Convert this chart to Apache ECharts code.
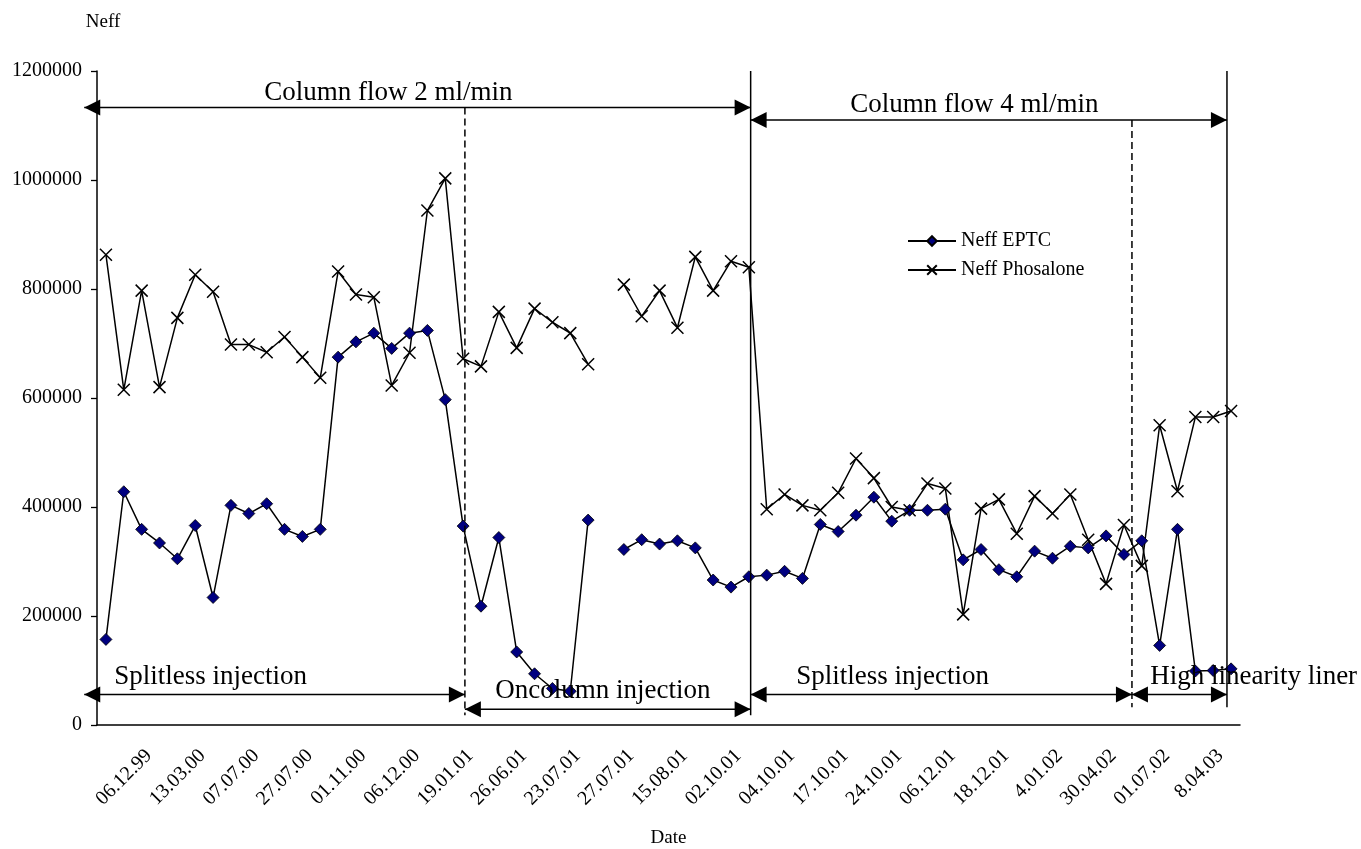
<!DOCTYPE html>
<html>
<head>
<meta charset="utf-8">
<title>Neff EPTC / Phosalone</title>
<script src="https://cdn.jsdelivr.net/npm/echarts@6/dist/echarts.min.js"></script>
<style>
  html, body { margin: 0; padding: 0; background: #fff; }
  #chart { width: 1361px; height: 849px; }
</style>
</head>
<body>
<div id="chart"></div>
<script>
// Plate number (Neff) per injection, in measurement order; null = no injection that day
const eptc = [
  157000, 428000, 359000, 334000, 305000, 366000, 234000, 403000, 388000, 406000,
  359000, 346000, 359000, 675000, 703000, 719000, 691000, 719000, 724000, 597000,
  365000, 218000, 344000, 134000, 94000, 67000, 62000, 376000, null, 322000,
  340000, 332000, 338000, 325000, 266000, 253000, 272000, 275000, 282000, 269000,
  368000, 355000, 385000, 418000, 374000, 394000, 394000, 396000, 303000, 322000,
  285000, 272000, 319000, 306000, 328000, 325000, 347000, 313000, 338000, 146000,
  359000, 99000, 100000, 103000
];
const phosalone = [
  863000, 615000, 797000, 620000, 747000, 826000, 795000, 698000, 698000, 684000,
  712000, 675000, 637000, 832000, 790000, 785000, 623000, 683000, 944000, 1003000,
  672000, 658000, 758000, 692000, 764000, 739000, 719000, 662000, null, 808000,
  750000, 797000, 729000, 859000, 797000, 851000, 840000, 396000, 423000, 403000,
  394000, 426000, 489000, 453000, 400000, 394000, 443000, 434000, 203000, 397000,
  414000, 351000, 420000, 388000, 423000, 340000, 259000, 367000, 292000, 550000,
  429000, 565000, 565000, 576000
];
// Date printed under every third measurement
const dateTicks = [
  '06.12.99', '13.03.00', '07.07.00', '27.07.00', '01.11.00', '06.12.00', '19.01.01',
  '26.06.01', '23.07.01', '27.07.01', '15.08.01', '02.10.01', '04.10.01', '17.10.01',
  '24.10.01', '06.12.01', '18.12.01', '4.01.02', '30.04.02', '01.07.02', '8.04.03'
];
const tickEvery = 3;
const yMin = 0, yMax = 1200000, yStep = 200000;

const sampleNo = eptc.map((_, i) => String(i + 1));
const serif = '"Liberation Serif", "Times New Roman", serif';

const chart = echarts.init(document.getElementById('chart'), null, { renderer: 'canvas' });

chart.setOption({
  animation: false,
  backgroundColor: '#fff',
  textStyle: { fontFamily: serif, color: '#000' },
  grid: { left: 97, right: 121, top: 71, bottom: 124, containLabel: false, outerBoundsMode: 'none' },
  legend: {
    orient: 'vertical',
    left: 902,
    top: 226,
    itemWidth: 48,
    itemHeight: 12,
    itemGap: 9,
    selectedMode: false,
    textStyle: { fontFamily: serif, fontSize: 20, color: '#000' },
    data: ['Neff EPTC', 'Neff Phosalone']
  },
  xAxis: {
    type: 'category',
    data: sampleNo,
    boundaryGap: true,
    name: 'Date',
    nameLocation: 'middle',
    nameGap: 104,
    nameTextStyle: { fontFamily: serif, fontSize: 19, color: '#000' },
    axisLine: { lineStyle: { color: '#000', width: 1.5 } },
    axisTick: { interval: 0, length: 7, lineStyle: { color: '#000', width: 1.3 } },
    axisLabel: {
      interval: (i) => i > 0 && i % tickEvery === 0,
      rotate: 45,
      margin: 17,
      padding: [0, 15, 0, 0],
      fontFamily: serif,
      fontSize: 20,
      color: '#000',
      formatter: (v, i) => dateTicks[i / tickEvery - 1] || ''
    },
    splitLine: { show: false }
  },
  yAxis: {
    type: 'value',
    min: yMin,
    max: yMax,
    interval: yStep,
    name: 'Neff',
    nameLocation: 'end',
    nameGap: 39,
    nameTextStyle: { fontFamily: serif, fontSize: 19, color: '#000', align: 'center', padding: [0, 0, 0, 12] },
    axisLine: { show: true, lineStyle: { color: '#000', width: 1.5 } },
    axisTick: { show: true, length: 6, lineStyle: { color: '#000', width: 1.3 } },
    axisLabel: { margin: 15, fontFamily: serif, fontSize: 20, color: '#000', formatter: (v) => String(v) },
    splitLine: { show: false }
  },
  series: [
    {
      name: 'Neff EPTC',
      type: 'line',
      data: eptc,
      connectNulls: false,
      symbol: 'diamond',
      symbolSize: 12,
      showSymbol: true,
      showAllSymbol: true,
      lineStyle: { color: '#000', width: 1.5 },
      itemStyle: { color: '#000080', borderColor: '#000', borderWidth: 0.8 },
      emphasis: { disabled: true }
    },
    {
      name: 'Neff Phosalone',
      type: 'line',
      data: phosalone,
      connectNulls: false,
      symbol: 'path://M0,0L10,10M10,0L0,10',
      symbolSize: 12,
      showSymbol: true,
      showAllSymbol: true,
      lineStyle: { color: '#000', width: 1.5 },
      itemStyle: { color: '#000', borderColor: '#000', borderWidth: 1.5 },
      emphasis: { disabled: true }
    }
  ]
});

// ---- Period annotations: separators, double arrows and captions ----
const x0 = chart.convertToPixel({ xAxisIndex: 0 }, 0);
const band = chart.convertToPixel({ xAxisIndex: 0 }, 1) - x0;
const xAt = (p) => x0 + p * band;            // fractional measurement position -> px
const yAt = (v) => chart.convertToPixel({ yAxisIndex: 0 }, v);

// period limits, in measurement units
const leftEdge = -1.215, onColumnStart = 20.1, flow4Start = 36.1, linerStart = 57.45, lastRun = 62.77;

const black = '#000';
function vline(p, vTop, vBottom, dashed) {
  return {
    type: 'line', silent: true, z: 50,
    shape: { x1: xAt(p), y1: yAt(vTop), x2: xAt(p), y2: yAt(vBottom) },
    style: { stroke: black, lineWidth: 1.5, lineDash: dashed ? [7, 4] : null }
  };
}
function head(x, y, dir) {
  const L = 16, H = 8;
  return {
    type: 'polygon', silent: true, z: 51,
    shape: { points: [[x, y], [x - dir * L, y - H], [x - dir * L, y + H]] },
    style: { fill: black }
  };
}
function arrow(pA, pB, v) {
  const xa = xAt(pA), xb = xAt(pB), y = yAt(v);
  return [
    { type: 'line', silent: true, z: 50, shape: { x1: xa, y1: y, x2: xb, y2: y }, style: { stroke: black, lineWidth: 1.5 } },
    head(xa, y, -1),
    head(xb, y, 1)
  ];
}
function caption(text, p, v, dy) {
  return {
    type: 'text', silent: true, z: 52,
    x: xAt(p), y: yAt(v) + dy,
    style: { text, fill: black, font: '27px ' + serif, align: 'left', verticalAlign: 'middle' }
  };
}

const topA = 1133000, topB = 1110000, lowA = 56000, lowB = 29000;
const graphics = [
  vline(onColumnStart, topA, 18000, true),
  vline(flow4Start, yMax, 18000, false),
  vline(linerStart, topB, 32500, true),
  vline(lastRun, yMax, 32500, false),
  ...arrow(leftEdge, flow4Start, topA),
  ...arrow(flow4Start, lastRun, topB),
  ...arrow(leftEdge, onColumnStart, lowA),
  ...arrow(onColumnStart, flow4Start, lowB),
  ...arrow(flow4Start, linerStart, lowA),
  ...arrow(linerStart, lastRun, lowA),
  caption('Column flow 2 ml/min', 8.86, topA, -15),
  caption('Column flow 4 ml/min', 41.67, topB, -15),
  caption('Splitless injection', 0.46, lowA, -18),
  caption('Oncolumn injection', 21.8, lowB, -18),
  caption('Splitless injection', 38.65, lowA, -18),
  caption('High linearity liner', 58.47, lowA, -18)
];
chart.setOption({ graphic: graphics });
</script>
</body>
</html>
